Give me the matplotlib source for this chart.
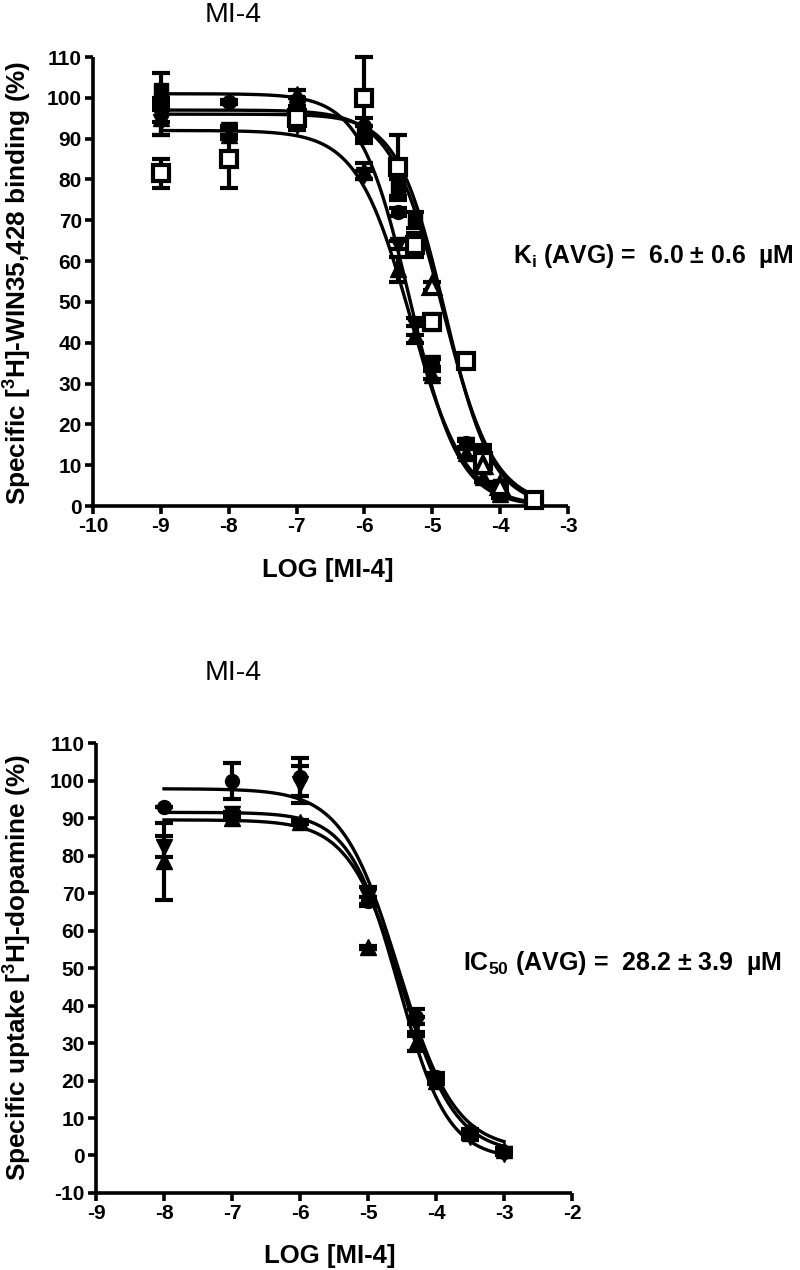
import numpy as np
import matplotlib
matplotlib.use("Agg")
import matplotlib.pyplot as plt

plt.rcParams['font.family'] = ['Liberation Sans', 'DejaVu Sans']
plt.rcParams['mathtext.fontset'] = 'custom'
plt.rcParams['mathtext.rm'] = 'Liberation Sans:bold'
plt.rcParams['mathtext.bf'] = 'Liberation Sans:bold'
plt.rcParams['mathtext.it'] = 'Liberation Sans:bold'

# ---------------- Top panel data (binding) ----------------
top_title = "MI-4"
top_xlabel = "LOG [MI-4]"
top_ylabel = r"Specific [$^{3}$H]-WIN35,428 binding (%)"
top_xticks = [-10, -9, -8, -7, -6, -5, -4, -3]
top_yticks = [0, 10, 20, 30, 40, 50, 60, 70, 80, 90, 100, 110]
top_note = r"K$_{\mathrm{i}}$ (AVG) =  6.0 ± 0.6  µM"

t1_x = [-9, -8, -7, -6, -5.5, -5, -4.5, -4.25, -4]
t1_y = [97, 99, 97, 93, 72, 35, 15.5, 11, 3]
t1_e = [3, 0.5, 1, 2, 1, 1, 1, 2, 1]

t2_x = [-9, -8, -7, -6, -5.5, -5.25, -5, -4.5, -4.25, -4]
t2_y = [95, 91, 101, 82, 58, 42, 32, 13, 7, 3]
t2_e = [4, 1, 1, 2, 3, 2, 1, 1, 1, 1]

t3_x = [-9, -8, -7, -6, -5.5, -5.25, -5, -4.5, -4.25, -4]
t3_y = [94, 92, 93, 81, 64, 44, 35, 15, 9, 4]
t3_e = [3, 1, 1, 1, 1, 2, 1, 1, 1, 1]

t4_x = [-9, -8, -7, -6, -5.5, -5.25, -5, -4.5, -4.25, -3.5]
t4_y = [81.5, 85, 95, 100, 83, 64, 45, 35.5, 11, 1.5]
t4_e = [3.5, 7, 2, 10, 8, 3, 2, 1.5, 3, 1]

t5_x = [-9, -7, -6, -5.5, -5.25, -4.25, -4, -3.5]
t5_y = [102, 99, 91, 78, 70, 12, 5, 1.5]
t5_e = [4, 1, 2, 2, 2, 3, 1, 1]

t6_x = [-5, -4.25, -4]
t6_y = [54, 10, 5]
t6_e = [1, 1, 1]

# fitted curves: top, bottom, logIC50, hill
top_fit_top = [92, 101, 97, 96]
top_fit_bottom = [0, 0, 0, 0]
top_fit_logic = [-5.32, -5.33, -4.85, -4.82]
top_fit_hill = [1.1, 1.2, 1.15, 1.25]
top_fit_range = [-9, -3.5]

# ---------------- Bottom panel data (uptake) ----------------
bot_title = "MI-4"
bot_xlabel = "LOG [MI-4]"
bot_ylabel = r"Specific uptake [$^{3}$H]-dopamine (%)"
bot_xticks = [-9, -8, -7, -6, -5, -4, -3, -2]
bot_yticks = [-10, 0, 10, 20, 30, 40, 50, 60, 70, 80, 90, 100, 110]
bot_note = r"IC$_{\mathrm{50}}$ (AVG) =  28.2 ± 3.9  µM"

b1_x = [-8, -7, -6, -5, -4.3, -4, -3.5, -3]
b1_y = [93, 100, 101, 68, 37, 21, 6.5, 1]
b1_e = [0, 4.8, 5, 1, 2, 1, 0.5, 0.5]

b2_x = [-8, -7, -6, -5, -4.3, -4, -3.5, -3]
b2_y = [82.4, 91, 99, 69, 35, 20, 5, 0.5]
b2_e = [2.9, 0.5, 5, 2.5, 2, 1, 0.5, 0.5]

b3_x = [-8, -7, -6, -5, -4.3, -4, -3.5, -3]
b3_y = [78.5, 90, 89, 55.5, 30, 20, 6, 1.5]
b3_e = [10.3, 0.5, 0.5, 0.5, 2, 0.5, 0.5, 0.5]

bot_fit_top = [97.8, 91.5, 89.5]
bot_fit_bottom = [1.5, -1, 0.5]
bot_fit_logic = [-4.55, -4.55, -4.5]
bot_fit_hill = [1.05, 1.2, 1.1]
bot_fit_range = [-8, -3]


def hill(x, top, bottom, logic, n):
    return bottom + (top - bottom) / (1 + 10 ** ((x - logic) * n))


fig = plt.figure(figsize=(8, 12.7), dpi=100)

LW = 2.6
TICKFS = 15


def style_axes(ax, xticks, yticks):
    ax.spines['top'].set_visible(False)
    ax.spines['right'].set_visible(False)
    for s in ('left', 'bottom'):
        ax.spines[s].set_linewidth(LW)
        ax.spines[s].set_capstyle('butt')
    ax.set_xticks(xticks)
    ax.set_yticks(yticks)
    ax.set_xticklabels([str(t) for t in xticks])
    ax.set_yticklabels([str(t) for t in yticks])
    ax.tick_params(direction='out', length=6, width=LW, labelsize=TICKFS, pad=2)
    for lab in ax.get_xticklabels() + ax.get_yticklabels():
        lab.set_fontweight('bold')
    ax.set_xlim(xticks[0], xticks[-1])
    ax.set_ylim(yticks[0], yticks[-1])


def pts(ax, x, y, e, marker, filled=True, ms=10):
    ax.errorbar(x, y, yerr=e, fmt='none', ecolor='black', elinewidth=3,
                capsize=6.5, capthick=3, zorder=3, clip_on=False)
    ax.plot(x, y, linestyle='none', marker=marker, ms=ms,
            mfc='black' if filled else 'white', mec='black',
            mew=3 if not filled else 1, zorder=4, clip_on=False)


# ---- top
ax1 = fig.add_axes([0.11625, 0.60157, 0.59375, 0.35354])
style_axes(ax1, top_xticks, top_yticks)
xx = np.linspace(top_fit_range[0], top_fit_range[1], 300)
for tp, bt, lc, n in zip(top_fit_top, top_fit_bottom, top_fit_logic, top_fit_hill):
    ax1.plot(xx, hill(xx, tp, bt, lc, n), color='black', lw=2.4, zorder=2, clip_on=False)
pts(ax1, t1_x, t1_y, t1_e, 'o')
pts(ax1, t2_x, t2_y, t2_e, '^', ms=11)
pts(ax1, t3_x, t3_y, t3_e, 'v', ms=11)
pts(ax1, t5_x, t5_y, t5_e, 's')
pts(ax1, t4_x, t4_y, t4_e, 's', filled=False, ms=11)
pts(ax1, t6_x, t6_y, t6_e, '^', filled=False, ms=11)

fig.text(233 / 800, 1 - 15 / 1270, top_title, ha='center', va='center', fontsize=20.5)
fig.text(328 / 800, 1 - 577 / 1270, top_xlabel, ha='center', va='baseline',
         fontsize=18.5, fontweight='bold')
fig.text(18 / 800, 1 - 283 / 1270, top_ylabel, ha='center', va='center',
         rotation=90, fontsize=18.8, fontweight='bold')
fig.text(513 / 800, 1 - 263 / 1270, top_note, ha='left', va='baseline',
         fontsize=17.8, fontweight='bold')

# ---- bottom
ax2 = fig.add_axes([0.12, 0.06063, 0.595, 0.35433])
style_axes(ax2, bot_xticks, bot_yticks)
xx = np.linspace(bot_fit_range[0], bot_fit_range[1], 300)
for tp, bt, lc, n in zip(bot_fit_top, bot_fit_bottom, bot_fit_logic, bot_fit_hill):
    ax2.plot(xx, hill(xx, tp, bt, lc, n), color='black', lw=2.4, zorder=2)
pts(ax2, b1_x, b1_y, b1_e, 'o')
pts(ax2, b2_x, b2_y, b2_e, 'v', ms=11)
pts(ax2, b3_x, b3_y, b3_e, '^', ms=11)

fig.text(233 / 800, 1 - 673 / 1270, bot_title, ha='center', va='center', fontsize=20.5)
fig.text(330 / 800, 1 - 1263 / 1270, bot_xlabel, ha='center', va='baseline',
         fontsize=18.5, fontweight='bold')
fig.text(18 / 800, 1 - 968 / 1270, bot_ylabel, ha='center', va='center',
         rotation=90, fontsize=18.8, fontweight='bold')
fig.text(463 / 800, 1 - 970 / 1270, bot_note, ha='left', va='baseline',
         fontsize=18, fontweight='bold')

fig.savefig("out.png", dpi=100)
